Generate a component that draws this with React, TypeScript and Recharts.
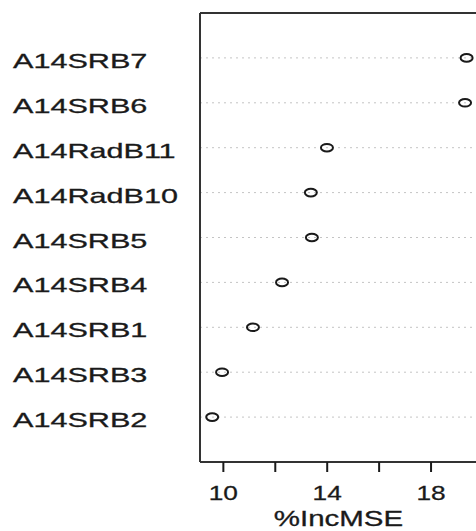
import { ScatterChart, Scatter, XAxis, YAxis, CartesianGrid, ReferenceLine } from "recharts";

// variable importance, bottom row first (as in R's dotchart)
const variables = [
  "A14SRB2",
  "A14SRB3",
  "A14SRB1",
  "A14SRB4",
  "A14SRB5",
  "A14RadB10",
  "A14RadB11",
  "A14SRB6",
  "A14SRB7",
];
const incMSE = [9.57, 9.95, 11.14, 12.26, 13.41, 13.37, 13.99, 19.31, 19.37];
const xTicks = [10, 12, 14, 16, 18];
const xTickLabels = [10, 14, 18];

const data = variables.map((name, i) => ({ name, value: incMSE[i], row: i + 1 }));
const rows = variables.map((_, i) => i + 1);

const INK = "#1a1a1a";
const FONT = "'Liberation Sans', Arial, sans-serif";

function YTick(props: any) {
  const { y, payload } = props;
  const label = variables[payload.value - 1] ?? "";
  return (
    <text
      transform={`translate(13,${y + 10}) scale(1.53,1)`}
      fontSize={20}
      fontFamily={FONT}
      fill={INK}
      stroke={INK}
      strokeWidth={0.3}
      textAnchor="start"
    >
      {label}
    </text>
  );
}

function XTick(props: any) {
  const { x, y, payload } = props;
  if (!xTickLabels.includes(payload.value)) return <g />;
  return (
    <text
      transform={`translate(${x},${y + 26}) scale(1.25,1)`}
      fontSize={21}
      fontFamily={FONT}
      fill={INK}
      stroke={INK}
      strokeWidth={0.3}
      textAnchor="middle"
    >
      {payload.value}
    </text>
  );
}

function Ring(props: any) {
  const { cx, cy } = props;
  return <ellipse cx={cx} cy={cy} rx={6} ry={3.8} fill="none" stroke={INK} strokeWidth={2} />;
}

export default function App() {
  return (
    <div style={{ width: 476, height: 531, overflow: "hidden", background: "#fff" }}>
      <style>{"body{margin:0}"}</style>
      <ScatterChart width={480} height={531} margin={{ top: 13, right: 3, bottom: 0, left: 0 }}>
        <CartesianGrid
          vertical={false}
          horizontal
          stroke="#c4c4c4"
          strokeDasharray="2 4"
          horizontalValues={rows}
        />
        <XAxis
          type="number"
          dataKey="value"
          domain={[9.1, 19.77]}
          ticks={xTicks}
          allowDataOverflow
          height={69}
          tickSize={10}
          tick={<XTick />}
          tickLine={{ stroke: INK, strokeWidth: 2 }}
          axisLine={{ stroke: "#333", strokeWidth: 2 }}
          label={(p: any) => {
            const vb = p.viewBox;
            const cx = vb.x + vb.width / 2;
            return (
              <text
                transform={`translate(${cx},526) scale(1.34,1)`}
                fontSize={22}
                fontFamily={FONT}
                fill={INK}
                stroke={INK}
                strokeWidth={0.3}
                textAnchor="middle"
              >
                %IncMSE
              </text>
            );
          }}
        />
        <YAxis
          type="number"
          dataKey="row"
          domain={[0, 10]}
          ticks={rows}
          width={200}
          tickLine={false}
          tick={<YTick />}
          axisLine={{ stroke: "#333", strokeWidth: 2 }}
        />
        <ReferenceLine y={10} stroke="#333" strokeWidth={2} />
        <Scatter data={data} shape={<Ring />} isAnimationActive={false} />
      </ScatterChart>
    </div>
  );
}
